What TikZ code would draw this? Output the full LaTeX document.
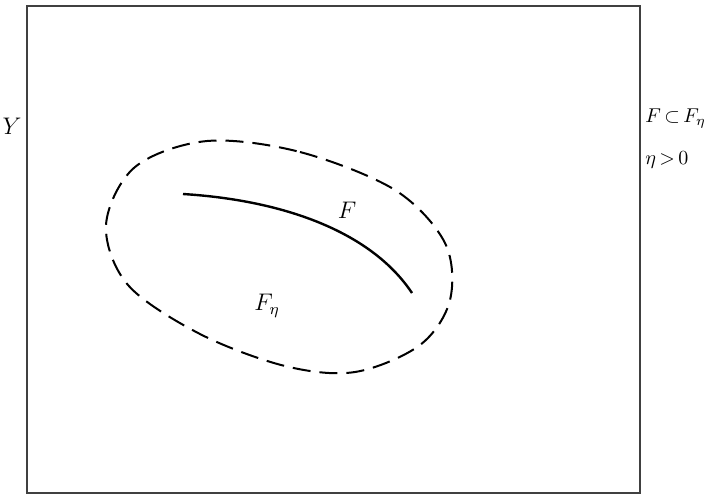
\documentclass[tikz,border=0pt]{standalone}
\usepackage{amsmath,amssymb}
\usepackage{tikz}
\usetikzlibrary{calc}

\begin{document}
\begin{tikzpicture}[
  x=0.5pt, y=-0.5pt,
  frame/.style={draw, line width=0.7pt, black!75},
  setline/.style={line width=1.2pt},
  nbhd/.style={line width=1pt, dash pattern=on 9pt off 4.5pt},
  lbl/.style={font=\large, inner sep=0pt},
  side/.style={font=\normalsize, inner sep=0pt, anchor=west},
]
  \useasboundingbox (0,0) rectangle (705,495);
  \draw[frame] (27,6) rectangle (640,493);

  % neighbourhood F_eta
  \draw[nbhd] plot[smooth cycle, tension=0.55] coordinates {
    (207,141) (300,152) (395,190) (445,243) (450,300) (420,345)
    (355,372) (285,366) (200,334) (128,285) (106,225) (135,167)};

  % the set F
  \draw[setline] (183,194) .. controls (280,200) and (370,230) .. (412,293);

  \node[lbl] (space) at (12,126) {$Y$};
  \node[lbl] (setf)  at (347,210) {$F$};
  \node[lbl] (fet)   at (267,306) {$F_\eta$};
  \node[side] (incl) at (645,119) {$F\,{\subset}\,F_\eta$};
  \node[side] (eta)  at (645,160) {$\eta\,{>}\,0$};
\end{tikzpicture}
\end{document}
